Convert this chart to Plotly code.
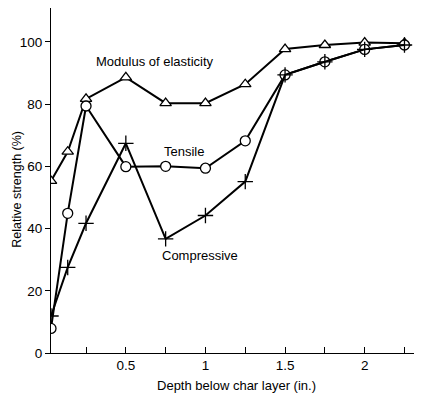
import plotly.graph_objects as go

depth = [0.03, 0.135, 0.25, 0.5, 0.75, 1.0, 1.25, 1.5, 1.75, 2.0, 2.25]
modulus = [55.3, 64.7, 81.7, 88.6, 80.3, 80.3, 86.4, 97.7, 99.0, 99.8, 99.6]
tensile = [7.9, 44.9, 79.4, 59.9, 60.0, 59.4, 68.2, 89.4, 93.6, 97.6, 99.0]
compressive = [11.9, 27.5, 41.7, 67.4, 36.7, 44.2, 55.1, 89.4, 93.6, 97.6, 99.0]

x_tickvals = [0.25, 0.5, 0.75, 1.0, 1.25, 1.5, 1.75, 2.0, 2.25]
x_ticktext = ["", "0.5", "", "1", "", "1.5", "", "2", ""]
y_tickvals = [0, 20, 40, 60, 80, 100]

labels = ["Modulus of elasticity", "Tensile", "Compressive"]
label_x = [0.681, 0.867, 0.968]
label_y = [93.8, 64.7, 31.5]

font = "Liberation Sans, Arial, Helvetica, sans-serif"

fig = go.Figure()
fig.add_trace(go.Scatter(x=depth, y=modulus, mode="lines+markers",
                         line=dict(color="black", width=2),
                         marker=dict(symbol="triangle-up", size=10, color="white",
                                     line=dict(color="black", width=1.3))))
fig.add_trace(go.Scatter(x=depth, y=tensile, mode="lines+markers",
                         line=dict(color="black", width=2),
                         marker=dict(symbol="circle", size=10, color="white",
                                     line=dict(color="black", width=1.3))))
fig.add_trace(go.Scatter(x=depth, y=compressive, mode="lines+markers",
                         line=dict(color="black", width=2),
                         marker=dict(symbol="cross-thin", size=11, color="black",
                                     line=dict(color="black", width=1.3))))

for t, lx, ly in zip(labels, label_x, label_y):
    fig.add_annotation(x=lx, y=ly, text=t, showarrow=False, xref="x", yref="y",
                       font=dict(family=font, size=13, color="black"))

# y-axis title as rotated text
fig.add_annotation(x=0, y=52.5, xref="paper", yref="y", xshift=-43,
                   xanchor="left", yanchor="middle",
                   text="Relative strength (%)", textangle=-90, showarrow=False,
                   font=dict(family=font, size=12.5, color="black"))

fig.update_layout(
    width=414, height=387,
    margin=dict(l=43, r=0, t=0, b=42, autoexpand=False),
    paper_bgcolor="white", plot_bgcolor="white",
    showlegend=False,
    font=dict(family=font, size=13.5, color="black"),
)
fig.update_xaxes(range=[0.03, 2.36], tickvals=x_tickvals, ticktext=x_ticktext,
                 ticks="inside", ticklen=6, tickwidth=1, tickcolor="black",
                 showline=True, linecolor="black", linewidth=1,
                 showgrid=False, zeroline=False, automargin=False,
                 title=dict(text="Depth below char layer (in.)", standoff=8,
                            font=dict(size=13)))
fig.update_yaxes(range=[0, 110.9], tickvals=y_tickvals,
                 ticks="outside", ticklen=5, tickwidth=1, tickcolor="black",
                 showline=True, linecolor="black", linewidth=1,
                 showgrid=False, zeroline=False, automargin=False)

fig.write_html("out.html")
